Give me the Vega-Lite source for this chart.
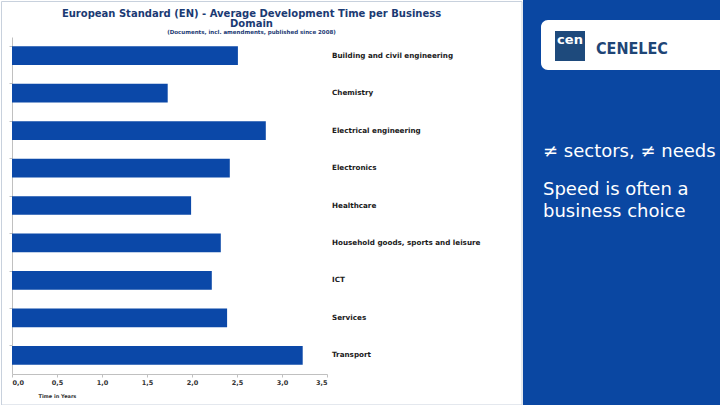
{
  "$schema": "https://vega.github.io/schema/vega-lite/v6.json",
  "padding": {"left": 1, "top": 0, "right": 0, "bottom": 0},
  "bounds": "flush",
  "spacing": 196,
  "config": {"view": {"stroke": null}, "font": "DejaVu Sans"},
  "hconcat": [
    {
      "width": 315,
      "height": 337,
      "data": {
        "values": [
          {"domain": "Building and civil engineering", "years": 2.51},
          {"domain": "Chemistry", "years": 1.73},
          {"domain": "Electrical engineering", "years": 2.82},
          {"domain": "Electronics", "years": 2.42},
          {"domain": "Healthcare", "years": 1.99},
          {"domain": "Household goods, sports and leisure", "years": 2.32},
          {"domain": "ICT", "years": 2.22},
          {"domain": "Services", "years": 2.39},
          {"domain": "Transport", "years": 3.23}
        ]
      },
      "title": {
        "text": ["European Standard (EN) - Average Development Time per  Business", "Domain"],
        "subtitle": "(Documents, incl. amendments, published since 2008)",
        "anchor": "middle",
        "dx": 82,
        "offset": 2,
        "fontSize": 10,
        "fontWeight": "bold",
        "lineHeight": 10,
        "color": "#1B3A73",
        "subtitleFontSize": 5.5,
        "subtitleFontWeight": "bold",
        "subtitleColor": "#1B3A73",
        "subtitlePadding": 1
      },
      "layer": [
        {
          "mark": {"type": "bar", "color": "#0B48A8"},
          "encoding": {
            "x": {
              "field": "years", "type": "quantitative",
              "scale": {"domain": [0, 3.5], "nice": false},
              "axis": {
                "values": [0, 0.5, 1, 1.5, 2, 2.5, 3, 3.5],
                "labelExpr": "replace(format(datum.value, '.1f'), '.', ',')",
                "grid": false,
                "title": "Time in Years",
                "titleAnchor": "start",
                "titleAlign": "left",
                "titleX": 26,
                "titleY": 21,
                "titleBaseline": "middle",
                "titleFontSize": 5,
                "titleFontWeight": "bold",
                "titleColor": "#333333",
                "labelFontSize": 6.5,
                "labelFontWeight": "bold",
                "labelColor": "#333333",
                "labelPadding": 2,
                "domainColor": "#C0C0C0",
                "tickColor": "#C0C0C0",
                "tickSize": 3
              }
            },
            "y": {
              "field": "domain", "type": "nominal", "sort": null,
              "scale": {"paddingInner": 0.5, "paddingOuter": 0.25},
              "axis": {
                "title": null,
                "labels": false,
                "tickSize": 3,
                "bandPosition": 0,
                "domainColor": "#C0C0C0",
                "tickColor": "#C0C0C0"
              }
            }
          }
        },
        {
          "mark": {"type": "text", "align": "left", "baseline": "middle", "dx": 5, "fontSize": 7.2, "fontWeight": "bold", "color": "#1A1A1A"},
          "encoding": {
            "x": {"datum": 3.5, "type": "quantitative"},
            "y": {"field": "domain", "type": "nominal", "sort": null},
            "text": {"field": "domain"}
          }
        }
      ]
    },
    {
      "width": 197,
      "height": 337,
      "data": {"values": [{}]},
      "layer": [
        {
          "mark": {"type": "rect", "fill": null, "stroke": "#C8D1DD", "strokeWidth": 1},
          "encoding": {
            "x": {"datum": 1.5, "type": "quantitative", "scale": {"domain": [523, 720], "range": [0, 197], "nice": false, "zero": false}, "axis": null},
            "x2": {"datum": 522},
            "y": {"datum": 1.5, "type": "quantitative", "scale": {"domain": [0, 405], "range": [-37, 368], "nice": false, "zero": false}, "axis": null},
            "y2": {"datum": 405}
          }
        },
        {
          "mark": {"type": "rect", "fill": "#0A47A2"},
          "encoding": {
            "x": {"datum": 523, "type": "quantitative"},
            "x2": {"datum": 720},
            "y": {"datum": 0, "type": "quantitative"},
            "y2": {"datum": 405}
          }
        },
        {
          "mark": {"type": "rect", "fill": "#FFFFFF", "cornerRadiusTopLeft": 7, "cornerRadiusBottomLeft": 7},
          "encoding": {
            "x": {"datum": 541, "type": "quantitative"},
            "x2": {"datum": 720},
            "y": {"datum": 20, "type": "quantitative"},
            "y2": {"datum": 70}
          }
        },
        {
          "mark": {"type": "rect", "fill": "#1E4A7C"},
          "encoding": {
            "x": {"datum": 555, "type": "quantitative"},
            "x2": {"datum": 585},
            "y": {"datum": 31, "type": "quantitative"},
            "y2": {"datum": 61}
          }
        },
        {
          "mark": {"type": "text", "text": "cen", "align": "center", "baseline": "alphabetic", "fontSize": 13, "fontWeight": "bold", "color": "#FFFFFF"},
          "encoding": {
            "x": {"datum": 570, "type": "quantitative"},
            "y": {"datum": 44, "type": "quantitative"}
          }
        },
        {
          "mark": {"type": "text", "text": "CENELEC", "align": "left", "baseline": "alphabetic", "fontSize": 16, "fontWeight": "bold", "font": "DejaVu Sans Condensed, Liberation Sans, sans-serif", "color": "#1E4576"},
          "encoding": {
            "x": {"datum": 596, "type": "quantitative"},
            "y": {"datum": 54, "type": "quantitative"}
          }
        },
        {
          "mark": {"type": "text", "text": "≠ sectors, ≠ needs", "align": "left", "baseline": "alphabetic", "fontSize": 18, "color": "#FFFFFF"},
          "encoding": {
            "x": {"datum": 543, "type": "quantitative"},
            "y": {"datum": 157, "type": "quantitative"}
          }
        },
        {
          "mark": {"type": "text", "text": "Speed is often a", "align": "left", "baseline": "alphabetic", "fontSize": 18, "color": "#FFFFFF"},
          "encoding": {
            "x": {"datum": 543, "type": "quantitative"},
            "y": {"datum": 195, "type": "quantitative"}
          }
        },
        {
          "mark": {"type": "text", "text": "business choice", "align": "left", "baseline": "alphabetic", "fontSize": 18, "color": "#FFFFFF"},
          "encoding": {
            "x": {"datum": 543, "type": "quantitative"},
            "y": {"datum": 217, "type": "quantitative"}
          }
        }
      ]
    }
  ]
}
